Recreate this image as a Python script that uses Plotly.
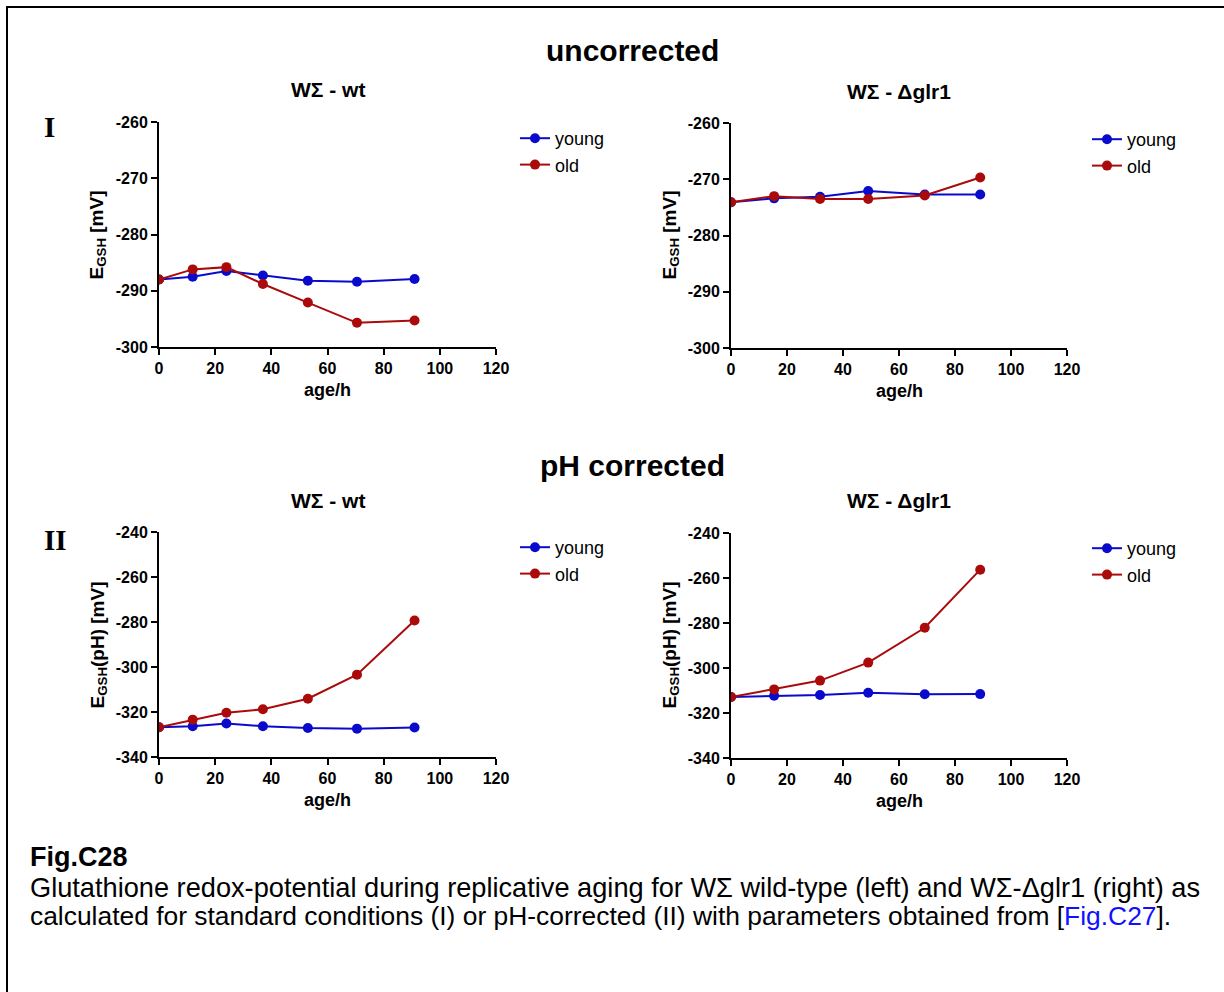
import plotly.graph_objects as go

W, H = 1224, 992

# ---- data -------------------------------------------------------------
age_wt = [0, 12, 24, 37, 53, 70.5, 91]
age_glr = [0, 15.4, 31.8, 49, 69.2, 89]

unc_wt_young = [-288.0, -287.5, -286.5, -287.3, -288.2, -288.4, -287.9]
unc_wt_old = [-288.0, -286.2, -285.8, -288.8, -292.1, -295.7, -295.3]
unc_glr_young = [-274.1, -273.4, -273.1, -272.1, -272.7, -272.7]
unc_glr_old = [-274.1, -273.0, -273.5, -273.5, -272.9, -269.7]

ph_wt_young = [-326.8, -326.3, -325.1, -326.3, -327.1, -327.4, -326.9]
ph_wt_old = [-326.8, -323.4, -320.3, -318.8, -314.1, -303.4, -279.3]
ph_glr_young = [-312.9, -312.3, -312.0, -311.0, -311.7, -311.6]
ph_glr_old = [-312.9, -309.5, -305.6, -297.6, -282.1, -256.3]

x_ticks = [0, 20, 40, 60, 80, 100, 120]
unc_y_ticks = [-300, -290, -280, -270, -260]
ph_y_ticks = [-340, -320, -300, -280, -260, -240]

series_names = ["young", "old"]
BLUE = "#0a0acc"
RED = "#aa0a0a"
FONT = "Liberation Sans, Arial, sans-serif"


def px(x):
    # pixel x -> paper fraction
    return x / W


def py(y):
    # pixel y (from top) -> paper fraction
    return 1 - y / H


def labels(vals):
    # plain hyphen-minus for negative tick labels
    return [str(v) for v in vals]


fig = go.Figure()

# panel boxes in pixels: (left, right, top, bottom)
panels = [
    dict(box=(159, 496, 122, 347), x=age_wt, ys=(unc_wt_young, unc_wt_old),
         yr=(-300, -260), yt=unc_y_ticks, ytitle="E<sub>GSH</sub> [mV]",
         title="WΣ - wt", leg=(517, 138)),
    dict(box=(731, 1067, 123, 348), x=age_glr, ys=(unc_glr_young, unc_glr_old),
         yr=(-300, -260), yt=unc_y_ticks, ytitle="E<sub>GSH</sub> [mV]",
         title="WΣ - Δglr1", leg=(1089, 139)),
    dict(box=(159, 496, 532, 757), x=age_wt, ys=(ph_wt_young, ph_wt_old),
         yr=(-340, -240), yt=ph_y_ticks, ytitle="E<sub>GSH</sub>(pH) [mV]",
         title="WΣ - wt", leg=(517, 547)),
    dict(box=(731, 1067, 533, 758), x=age_glr, ys=(ph_glr_young, ph_glr_old),
         yr=(-340, -240), yt=ph_y_ticks, ytitle="E<sub>GSH</sub>(pH) [mV]",
         title="WΣ - Δglr1", leg=(1089, 548)),
]

annotations = []
for i, p in enumerate(panels, start=1):
    l, r, t, b = p["box"]
    sfx = "" if i == 1 else str(i)
    legname = "legend" if i == 1 else f"legend{i}"
    for name, ys, col in zip(series_names, p["ys"], (BLUE, RED)):
        fig.add_trace(go.Scatter(
            x=p["x"], y=ys, name=name, mode="lines+markers",
            line=dict(color=col, width=2),
            marker=dict(color=col, size=10),
            xaxis=f"x{sfx}", yaxis=f"y{sfx}", legend=legname,
        ))
    axis_common = dict(
        showline=True, linecolor="black", linewidth=2, mirror=False,
        ticks="outside", ticklen=6, tickwidth=2, tickcolor="black",
        showgrid=False, zeroline=False, automargin=False,
        tickfont=dict(family=FONT, size=16, color="black", weight="bold"),
    )
    fig.layout[f"xaxis{sfx}"] = dict(
        domain=[px(l), px(r)], anchor=f"y{sfx}", range=[0, 120],
        tickvals=x_ticks, ticktext=labels(x_ticks), **axis_common)
    fig.layout[f"yaxis{sfx}"] = dict(
        domain=[py(b), py(t)], anchor=f"x{sfx}", range=list(p["yr"]),
        tickvals=p["yt"], ticktext=labels(p["yt"]), **axis_common)
    lx, ly = p["leg"]
    fig.layout[legname] = dict(
        x=px(lx - 2), y=py(ly - 18), xanchor="left", yanchor="top",
        bgcolor="rgba(0,0,0,0)", itemwidth=30, tracegroupgap=0,
        font=dict(family=FONT, size=18, color="black"),
    )
    cx = (l + r) / 2
    annotations.append(dict(
        x=px(cx), y=py(t - 32), text=f"<b>{p['title']}</b>", showarrow=False,
        xref="paper", yref="paper", xanchor="center", yanchor="middle",
        font=dict(family=FONT, size=21, color="black")))
    annotations.append(dict(
        x=px(cx), y=py(b + 43), text="<b>age/h</b>", showarrow=False,
        xref="paper", yref="paper", xanchor="center", yanchor="middle",
        font=dict(family=FONT, size=18, color="black")))
    annotations.append(dict(
        x=px(l - 61), y=py((t + b) / 2), text=f"<b>{p['ytitle']}</b>",
        showarrow=False, textangle=-90,
        xref="paper", yref="paper", xanchor="center", yanchor="middle",
        font=dict(family=FONT, size=19, color="black")))

# section headings and roman numerals
for text, yy in (("uncorrected", 50), ("pH corrected", 465)):
    annotations.append(dict(
        x=px(632), y=py(yy), text=f"<b>{text}</b>", showarrow=False,
        xref="paper", yref="paper", xanchor="center", yanchor="middle",
        font=dict(family=FONT, size=30, color="black")))
for text, yy in (("I", 127), ("II", 540)):
    annotations.append(dict(
        x=px(42), y=py(yy), text=f"<b>{text}</b>", showarrow=False,
        xref="paper", yref="paper", xanchor="left", yanchor="middle",
        font=dict(family="Liberation Serif, Times New Roman, serif",
                  size=29, color="black")))

# figure caption
annotations.append(dict(
    x=px(28), y=py(857), text="<b>Fig.C28</b>", showarrow=False,
    xref="paper", yref="paper", xanchor="left", yanchor="middle",
    font=dict(family=FONT, size=27, color="black")))
annotations.append(dict(
    x=px(28), y=py(887),
    text="Glutathione redox-potential during replicative aging for WΣ wild-type "
         "(left) and WΣ-Δglr1 (right) as",
    showarrow=False, xref="paper", yref="paper", xanchor="left",
    yanchor="middle", font=dict(family=FONT, size=27.2, color="black")))
annotations.append(dict(
    x=px(28), y=py(916),
    text="calculated for standard conditions (I) or pH-corrected (II) with "
         "parameters obtained from [<span style='color:#1010ff'>Fig.C27</span>].",
    showarrow=False, xref="paper", yref="paper", xanchor="left",
    yanchor="middle", font=dict(family=FONT, size=26.4, color="black")))

fig.update_layout(
    width=W, height=H,
    margin=dict(l=0, r=0, t=0, b=0, autoexpand=False),
    paper_bgcolor="white", plot_bgcolor="white",
    showlegend=True, annotations=annotations,
    shapes=[dict(type="rect", xref="paper", yref="paper",
                 x0=px(7), x1=px(1240), y0=py(1010), y1=py(7),
                 line=dict(color="black", width=2))],
)

fig.write_html("out.html")
